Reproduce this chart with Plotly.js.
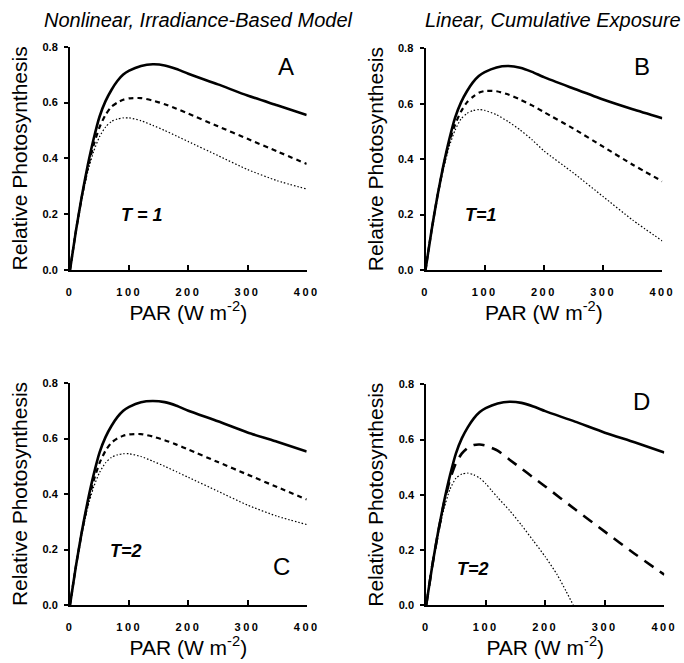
<!DOCTYPE html>
<html>
<head>
<meta charset="utf-8">
<script src="https://cdn.plot.ly/plotly-3.0.1.min.js"></script>
<style>
  html, body { margin: 0; padding: 0; background: #fff; }
  #chart { width: 684px; height: 663px; }
  .xtick text, .x2tick text, .x3tick text, .x4tick text { letter-spacing: 2.5px; }
</style>
</head>
<body>
<div id="chart"></div>
<script>
// ---- data ----
const par = [0, 10, 20, 30, 40, 50, 60, 70, 80, 90, 100, 120, 140, 160, 180, 200, 250, 300, 350, 400];

// Panel A: Nonlinear, irradiance-based model, T = 1
const solidA  = [0, 0.14, 0.265, 0.375, 0.47, 0.55, 0.605, 0.645, 0.677, 0.70, 0.714, 0.731, 0.737, 0.733, 0.72, 0.703, 0.665, 0.625, 0.59, 0.555];
const dashedA = [0, 0.14, 0.262, 0.365, 0.448, 0.512, 0.556, 0.585, 0.60, 0.61, 0.615, 0.616, 0.607, 0.594, 0.578, 0.56, 0.515, 0.47, 0.425, 0.38];
const dottedA = [0, 0.14, 0.255, 0.352, 0.425, 0.478, 0.512, 0.532, 0.541, 0.545, 0.545, 0.535, 0.518, 0.50, 0.48, 0.46, 0.41, 0.36, 0.32, 0.29];

// Panel B: Linear, cumulative exposure, T = 1
const solidB  = [0, 0.14, 0.265, 0.375, 0.47, 0.55, 0.605, 0.645, 0.677, 0.70, 0.714, 0.731, 0.736, 0.73, 0.715, 0.696, 0.655, 0.615, 0.58, 0.548];
const dashedB = [0, 0.14, 0.265, 0.372, 0.46, 0.525, 0.572, 0.605, 0.625, 0.64, 0.646, 0.645, 0.633, 0.615, 0.594, 0.57, 0.51, 0.445, 0.38, 0.32];
const dottedB = [0, 0.14, 0.262, 0.362, 0.445, 0.505, 0.545, 0.565, 0.575, 0.579, 0.576, 0.56, 0.535, 0.505, 0.47, 0.43, 0.35, 0.265, 0.18, 0.105];

// Panel C: Nonlinear, irradiance-based model, T = 2
const solidC  = [0, 0.14, 0.265, 0.375, 0.47, 0.55, 0.605, 0.645, 0.677, 0.70, 0.714, 0.731, 0.735, 0.731, 0.718, 0.70, 0.662, 0.622, 0.588, 0.553];
const dashedC = [0, 0.14, 0.262, 0.365, 0.448, 0.512, 0.556, 0.585, 0.60, 0.61, 0.615, 0.616, 0.607, 0.594, 0.578, 0.56, 0.515, 0.47, 0.425, 0.38];
const dottedC = [0, 0.14, 0.255, 0.352, 0.425, 0.478, 0.512, 0.532, 0.541, 0.545, 0.545, 0.535, 0.518, 0.50, 0.48, 0.46, 0.41, 0.36, 0.32, 0.29];

// Panel D: Linear, cumulative exposure, T = 2
const solidD  = [0, 0.14, 0.265, 0.375, 0.47, 0.55, 0.605, 0.645, 0.677, 0.70, 0.714, 0.731, 0.737, 0.733, 0.72, 0.703, 0.665, 0.625, 0.59, 0.553];
const dashedD = [0, 0.14, 0.262, 0.37, 0.455, 0.515, 0.55, 0.57, 0.58, 0.582, 0.578, 0.56, 0.527, 0.495, 0.462, 0.43, 0.347, 0.266, 0.186, 0.11];
const parDottedD = [0, 10, 20, 30, 40, 50, 60, 70, 80, 90, 100, 110, 120, 140, 160, 180, 200, 220, 235, 247];
const dottedD    = [0, 0.14, 0.255, 0.35, 0.42, 0.46, 0.475, 0.478, 0.472, 0.46, 0.44, 0.415, 0.39, 0.343, 0.29, 0.233, 0.175, 0.11, 0.05, 0.0];

const panelTitles = ["Nonlinear, Irradiance-Based Model", "Linear, Cumulative Exposure"];
const panelLetters = ["A", "B", "C", "D"];
const timeLabels = ["T = 1", "T=1", "T=2", "T=2"];
const xTickVals = [0, 100, 200, 300, 400];
const yTickVals = [0, 0.2, 0.4, 0.6, 0.8];

// ---- styles ----
const solidStyle  = {color: "#000", width: 2.6, dash: "solid"};
const dashedStyle = {color: "#000", width: 2.2, dash: "5px,4px"};
const longDash    = {color: "#000", width: 2.6, dash: "11px,8px"};
const dotStyle    = {color: "#000", width: 1.2, dash: "1.5px,2px"};

function tr(x, y, ax, line) {
  return {x: x, y: y, xaxis: "x" + ax, yaxis: "y" + ax, type: "scatter", mode: "lines",
          line: Object.assign({shape: "spline", smoothing: 0.6}, line), hoverinfo: "x+y"};
}

const data = [
  tr(par, solidA, "", solidStyle), tr(par, dashedA, "", dashedStyle), tr(par, dottedA, "", dotStyle),
  tr(par, solidB, "2", solidStyle), tr(par, dashedB, "2", dashedStyle), tr(par, dottedB, "2", dotStyle),
  tr(par, solidC, "3", solidStyle), tr(par, dashedC, "3", dashedStyle), tr(par, dottedC, "3", dotStyle),
  tr(par, solidD, "4", solidStyle), tr(par, dashedD, "4", longDash), tr(parDottedD, dottedD, "4", dotStyle)
];
data.slice(0, 3).forEach(t => { t.xaxis = "x"; t.yaxis = "y"; });

const W = 684, H = 663;
function xdom(l, r) { return [l / W, r / W]; }
function ydom(t, b) { return [1 - b / H, 1 - t / H]; }

const FONT = "Liberation Sans, Arial, sans-serif";

function xAxis(anchor, dom) {
  return {
    domain: dom, anchor: anchor, range: [0, 400], tickvals: xTickVals,
    ticks: "inside", ticklen: 5, tickwidth: 2, tickcolor: "#000",
    showline: true, linewidth: 2, linecolor: "#000", mirror: false,
    showgrid: false, zeroline: false, ticklabelstandoff: 11,
    tickfont: {family: FONT, size: 11, color: "#000", weight: "bold"},
    title: {text: "PAR (W m<sup>-2</sup>)", standoff: 8,
            font: {family: FONT, size: 21, color: "#000"}},
    fixedrange: true
  };
}
function yAxis(anchor, dom) {
  return {
    domain: dom, anchor: anchor, range: [0, 0.8], tickvals: yTickVals, tickformat: ".1f",
    ticks: "outside", ticklen: 4, tickwidth: 2, tickcolor: "#000",
    showline: true, linewidth: 2, linecolor: "#000",
    showgrid: false, zeroline: false, ticklabelstandoff: 4,
    tickfont: {family: FONT, size: 11, color: "#000", weight: "bold"},
    title: {text: "Relative Photosynthesis", standoff: 9,
            font: {family: FONT, size: 21, color: "#000"}},
    fixedrange: true
  };
}

const dA = {x: xdom(70, 306.7), y: ydom(46.7, 270)};
const dB = {x: xdom(425.5, 662.3), y: ydom(48.3, 270)};
const dC = {x: xdom(70, 306.7), y: ydom(383, 605)};
const dD = {x: xdom(426.2, 664.3), y: ydom(384.4, 605)};

function ann(text, xpx, ypx, size, italic, bold) {
  return {text: text, xref: "paper", yref: "paper", x: xpx / W, y: 1 - ypx / H,
          xanchor: "center", yanchor: "middle", showarrow: false,
          font: {family: FONT, size: size, color: "#000",
                 style: italic ? "italic" : "normal", weight: bold ? "bold" : "normal"}};
}

const layout = {
  width: W, height: H, margin: {l: 0, r: 0, t: 0, b: 0},
  paper_bgcolor: "#fff", plot_bgcolor: "#fff", showlegend: false,
  xaxis: xAxis("y", dA.x), yaxis: yAxis("x", dA.y),
  xaxis2: xAxis("y2", dB.x), yaxis2: yAxis("x2", dB.y),
  xaxis3: xAxis("y3", dC.x), yaxis3: yAxis("x3", dC.y),
  xaxis4: xAxis("y4", dD.x), yaxis4: yAxis("x4", dD.y),
  annotations: [
    ann(panelTitles[0], 198, 20, 20, true, false),
    ann(panelTitles[1], 553, 20, 20, true, false),
    ann(panelLetters[0], 286, 67, 24, false, false),
    ann(panelLetters[1], 642, 67, 24, false, false),
    ann(panelLetters[2], 281, 566, 24, false, false),
    ann(panelLetters[3], 641, 401, 24, false, false),
    ann(timeLabels[0], 142, 215, 18, true, true),
    ann(timeLabels[1], 481, 215, 18, true, true),
    ann(timeLabels[2], 126, 551, 18, true, true),
    ann(timeLabels[3], 473, 569, 18, true, true)
  ]
};

Plotly.newPlot("chart", data, layout, {displayModeBar: false, staticPlot: true});
</script>
</body>
</html>
